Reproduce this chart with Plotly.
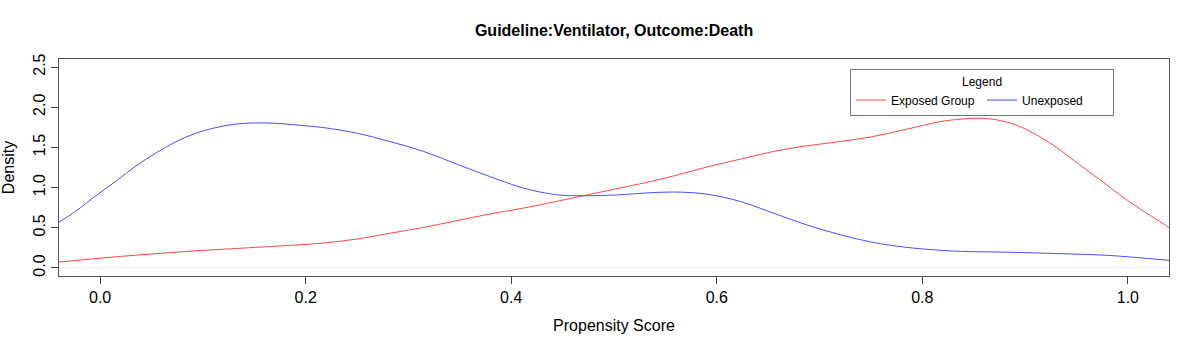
import plotly.graph_objects as go

# density estimates
score_exposed = [-0.04, 0.021, 0.086, 0.151, 0.185, 0.217, 0.25, 0.282, 0.315, 0.347,
                 0.379, 0.412, 0.444, 0.47, 0.506, 0.53, 0.558, 0.59, 0.623, 0.655,
                 0.687, 0.72, 0.752, 0.785, 0.817, 0.837, 0.856, 0.876, 0.895, 0.914,
                 0.934, 0.953, 0.973, 0.992, 1.012, 1.031, 1.04]
density_exposed = [0.074, 0.145, 0.207, 0.256, 0.281, 0.31, 0.36, 0.432, 0.505, 0.588,
                   0.671, 0.745, 0.828, 0.898, 0.995, 1.06, 1.145, 1.255, 1.354, 1.449,
                   1.519, 1.573, 1.635, 1.727, 1.82, 1.851, 1.863, 1.834, 1.759, 1.635,
                   1.47, 1.283, 1.097, 0.911, 0.733, 0.579, 0.5]

score_unexposed = [-0.04, -0.024, -0.005, 0.015, 0.034, 0.054, 0.073, 0.092, 0.112, 0.131,
                   0.151, 0.170, 0.19, 0.217, 0.25, 0.282, 0.315, 0.347, 0.379, 0.412,
                   0.444, 0.47, 0.506, 0.53, 0.558, 0.59, 0.623, 0.655, 0.687, 0.72,
                   0.752, 0.785, 0.81, 0.837, 0.88, 0.934, 0.98, 1.04]
density_unexposed = [0.571, 0.703, 0.89, 1.076, 1.262, 1.428, 1.565, 1.672, 1.745, 1.789,
                     1.805, 1.801, 1.78, 1.747, 1.677, 1.573, 1.449, 1.292, 1.138, 0.994,
                     0.911, 0.898, 0.911, 0.932, 0.945, 0.919, 0.827, 0.683, 0.538, 0.414,
                     0.318, 0.256, 0.227, 0.207, 0.197, 0.178, 0.157, 0.095]

x_ticks = [0.0, 0.2, 0.4, 0.6, 0.8, 1.0]
y_ticks = [0.0, 0.5, 1.0, 1.5, 2.0, 2.5]

FONT = "Liberation Sans, Arial, Helvetica, sans-serif"

fig = go.Figure()

fig.add_trace(go.Scatter(
    x=score_exposed,
    y=density_exposed,
    mode="lines",
    name="Exposed Group",
    line=dict(color="rgb(255,70,70)", width=1, shape="spline"),
))

fig.add_trace(go.Scatter(
    x=score_unexposed,
    y=density_unexposed,
    mode="lines",
    name="Unexposed",
    line=dict(color="rgb(70,80,255)", width=1, shape="spline"),
))

fig.update_xaxes(
    range=[-0.04, 1.04],
    tickvals=x_ticks,
    ticktext=[f"{v:.1f}" for v in x_ticks],
    ticks="outside",
    ticklen=7,
    tickcolor="#444",
    showgrid=False,
    zeroline=False,
    showline=True,
    linecolor="#555",
    mirror=True,
    automargin=False,
    tickfont=dict(size=16, color="black"),
    title=dict(text="Propensity Score", font=dict(size=16, color="black"), standoff=14),
)

fig.update_yaxes(
    range=[-0.1, 2.6],
    tickvals=y_ticks,
    ticktext=[f"{v:.1f}" for v in y_ticks],
    tickangle=-90,
    ticks="outside",
    ticklen=7,
    tickcolor="#444",
    showgrid=False,
    zeroline=True,
    zerolinecolor="#ececec",
    zerolinewidth=1,
    showline=True,
    linecolor="#555",
    mirror=True,
    automargin=False,
    tickfont=dict(size=16, color="black"),
    title=dict(text="Density", font=dict(size=16, color="black"), standoff=11),
)

fig.update_layout(
    width=1200,
    height=350,
    margin=dict(l=59, r=31, t=59, b=74),
    plot_bgcolor="white",
    paper_bgcolor="white",
    font=dict(family=FONT, color="black"),
    title=dict(
        text="<b>Guideline:Ventilator, Outcome:Death</b>",
        x=0.5117,
        xanchor="center",
        y=0.914,
        yanchor="middle",
        font=dict(size=16, color="black"),
    ),
    legend=dict(
        title=dict(text="Legend", side="top center", font=dict(size=12)),
        orientation="h",
        x=0.9505,
        xanchor="right",
        y=0.954,
        yanchor="top",
        bordercolor="#777",
        borderwidth=1,
        bgcolor="white",
        font=dict(size=12),
        itemwidth=30,
        entrywidth=86,
    ),
)

# the page body has a default 8px margin; drop it so the figure sits at the corner
fig.write_html(
    "out.html",
    config={"displayModeBar": False},
    post_script="document.body.style.margin = '0';",
)
